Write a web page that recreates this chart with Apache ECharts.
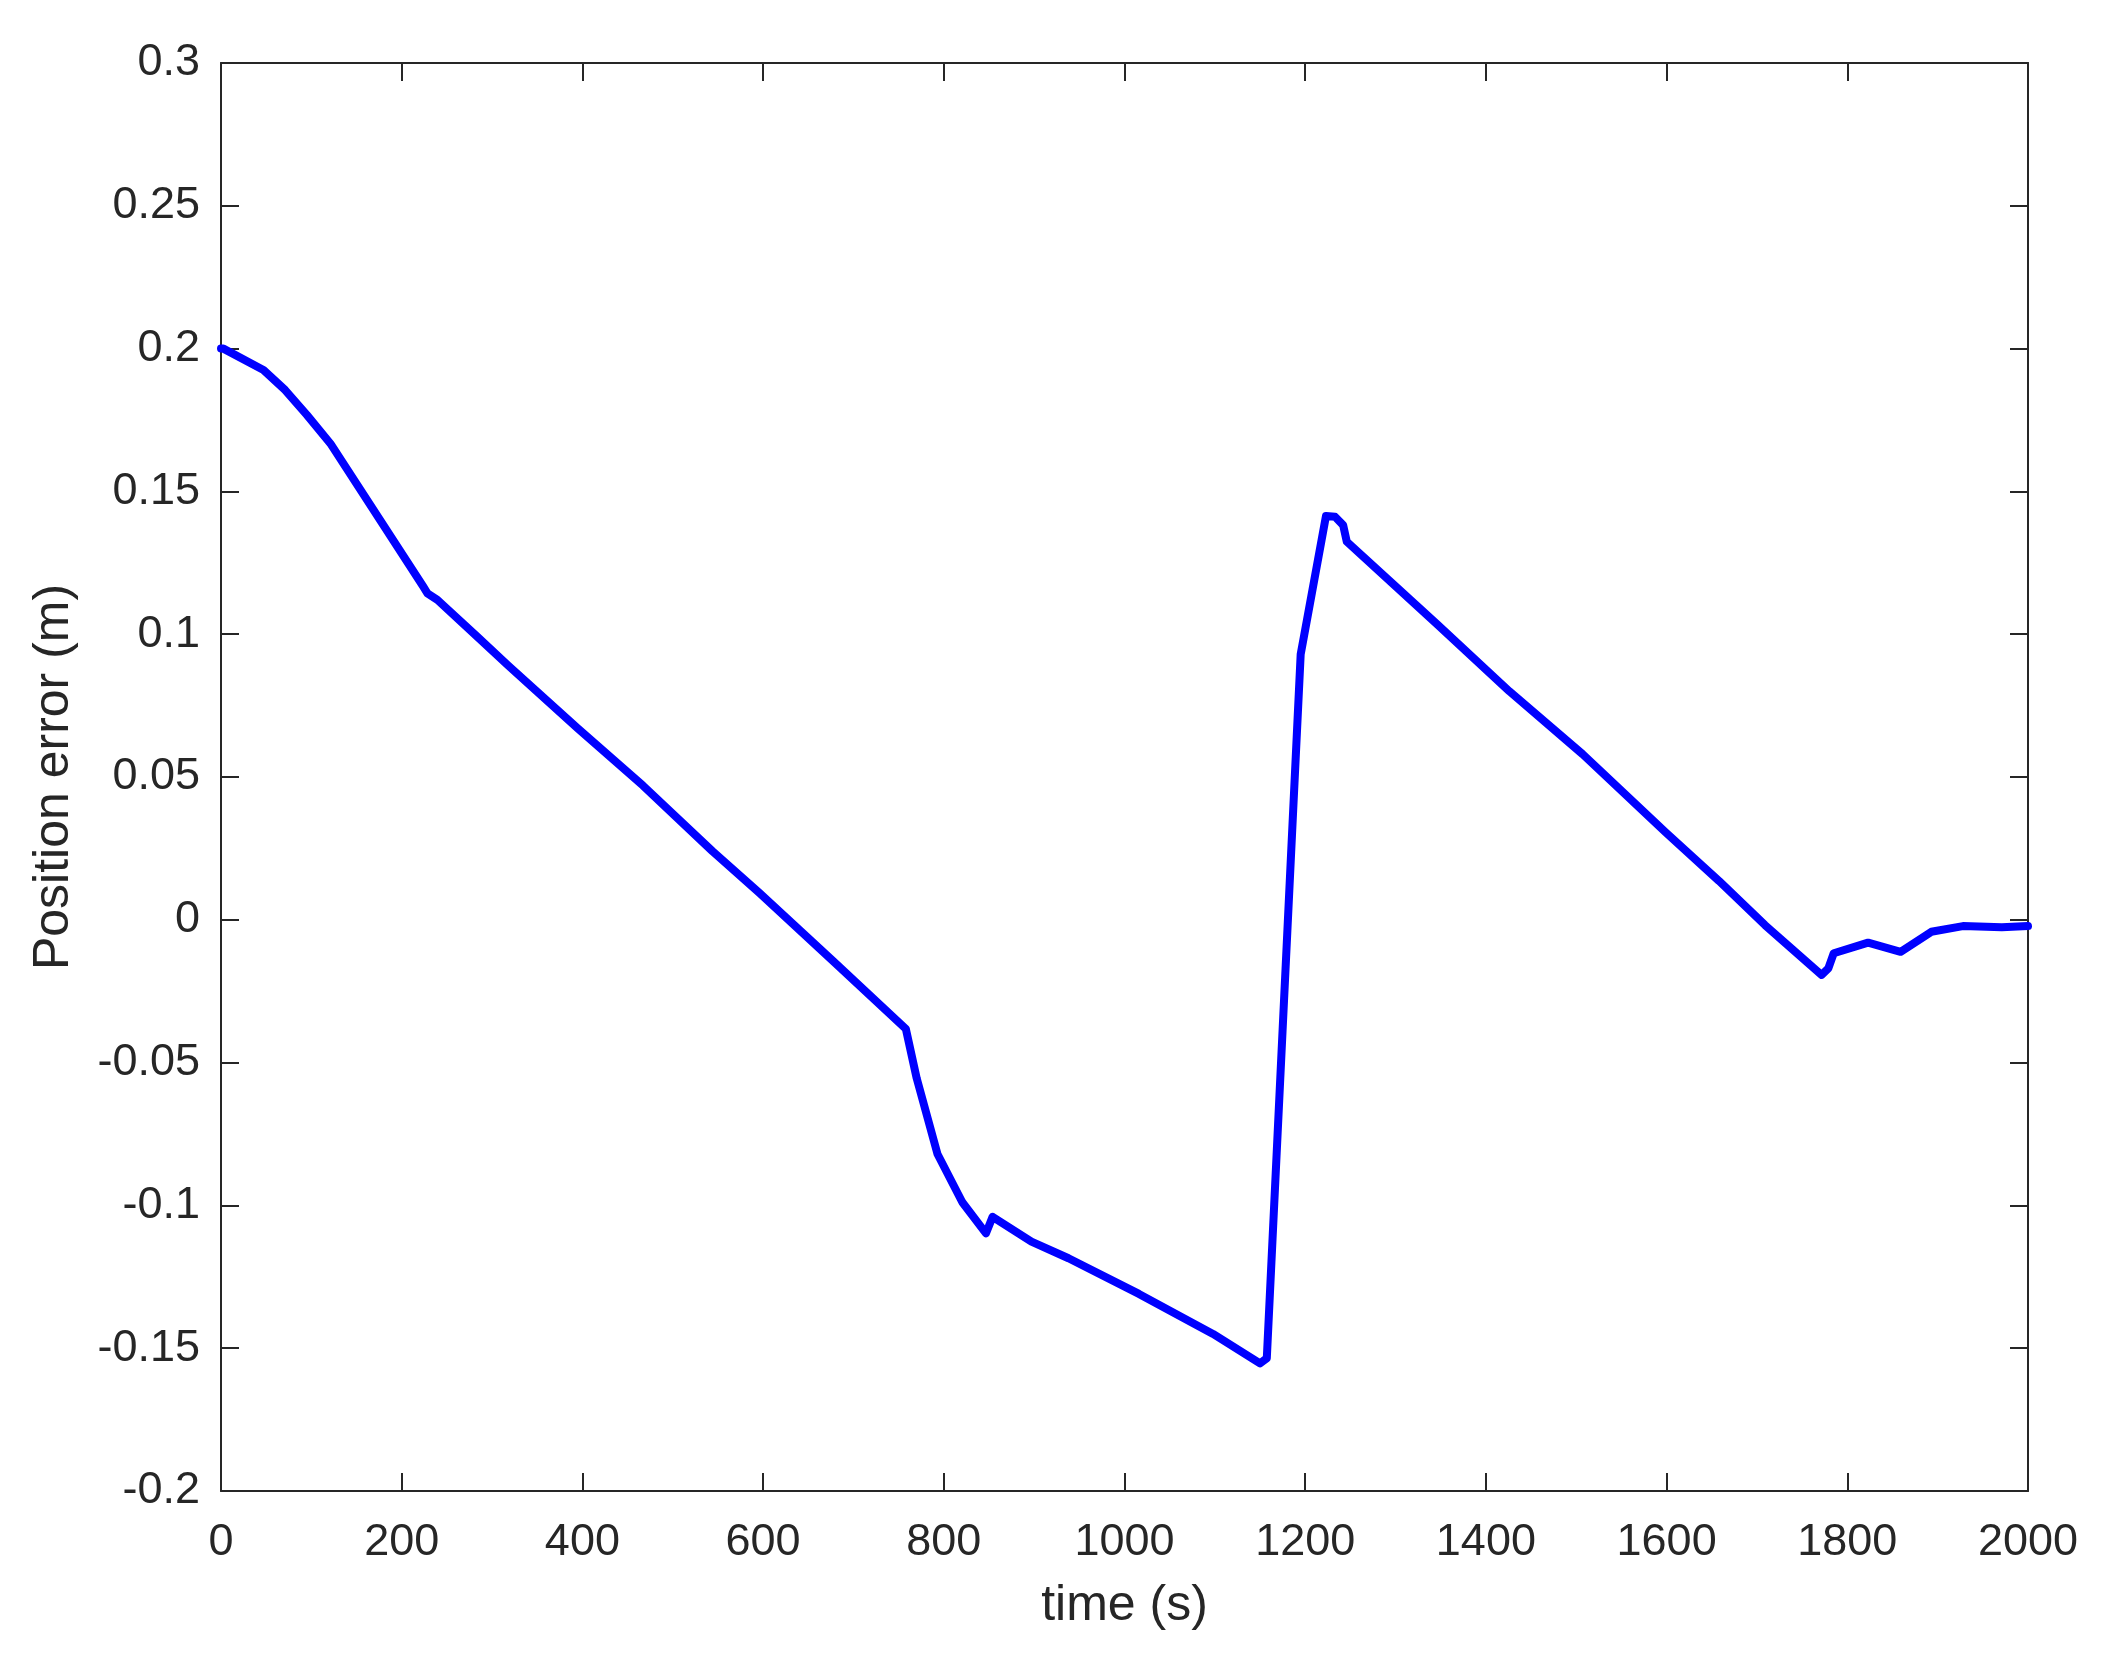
<!DOCTYPE html>
<html>
<head>
<meta charset="utf-8">
<script src="https://cdn.jsdelivr.net/npm/echarts@6/dist/echarts.min.js"></script>
<style>html,body{margin:0;padding:0;background:#fff}#c{width:2107px;height:1655px}</style>
</head>
<body>
<div id="c"></div>
<script>
const times = [0, 2.6, 47, 71, 95, 121, 224, 228.5, 239.5, 284, 318, 395, 467, 544, 596, 678, 758, 770, 793, 820.5, 846.7, 854, 897, 938, 1016, 1098, 1150, 1157.5, 1195, 1223, 1233, 1242, 1246, 1346, 1426, 1507, 1599, 1658, 1709, 1771.6, 1779, 1785, 1823, 1859, 1893, 1928, 1971, 2000];
const errors = [0.2, 0.2, 0.1925, 0.1855, 0.1768, 0.1668, 0.1166, 0.1143, 0.112, 0.099, 0.089, 0.067, 0.047, 0.024, 0.0094, -0.0146, -0.0382, -0.0555, -0.082, -0.0989, -0.1098, -0.104, -0.1127, -0.1185, -0.131, -0.145, -0.1553, -0.1535, 0.093, 0.1414, 0.1411, 0.1382, 0.1324, 0.1035, 0.080, 0.058, 0.0306, 0.0136, -0.0019, -0.0193, -0.017, -0.0117, -0.008, -0.0112, -0.0042, -0.0022, -0.0026, -0.0022];
const xTicks = [0, 200, 400, 600, 800, 1000, 1200, 1400, 1600, 1800, 2000];
const yTickLabels = ['-0.2', '-0.15', '-0.1', '-0.05', '0', '0.05', '0.1', '0.15', '0.2', '0.25', '0.3'];
const xName = 'time (s)';
const yName = 'Position error (m)';

const data = times.map((t, i) => [t, errors[i]]);
const txt = '#262626';
const font = 'Liberation Sans, Arial, Helvetica, sans-serif';
const axisCommon = {
  axisLine: {show: true, onZero: false, lineStyle: {color: txt, width: 2}},
  axisTick: {show: true, inside: true, length: 18, lineStyle: {color: txt, width: 2}},
  splitLine: {show: false}
};
const chart = echarts.init(document.getElementById('c'));
chart.setOption({
  animation: false,
  backgroundColor: '#fff',
  grid: {left: 221, top: 63, right: 79, bottom: 164, containLabel: false},
  xAxis: [
    Object.assign({
      type: 'value', min: xTicks[0], max: xTicks[xTicks.length - 1], interval: 200,
      name: xName, nameLocation: 'middle', nameGap: 90,
      nameTextStyle: {color: txt, fontSize: 50, fontFamily: font},
      axisLabel: {color: txt, fontSize: 45, fontFamily: font, margin: 29,
        formatter: v => String(xTicks[Math.round(v / 200)])}
    }, axisCommon),
    Object.assign({
      type: 'value', position: 'top', min: 0, max: 2000, interval: 200,
      axisLabel: {show: false}
    }, axisCommon)
  ],
  yAxis: [
    Object.assign({
      type: 'value', min: -0.2, max: 0.3, interval: 0.05,
      name: yName, nameLocation: 'middle', nameGap: 142,
      nameTextStyle: {color: txt, fontSize: 50, fontFamily: font},
      axisLabel: {color: txt, fontSize: 45, fontFamily: font, margin: 21,
        formatter: v => yTickLabels[Math.round((v + 0.2) / 0.05)]}
    }, axisCommon),
    Object.assign({
      type: 'value', position: 'right', min: -0.2, max: 0.3, interval: 0.05,
      axisLabel: {show: false}
    }, axisCommon)
  ],
  series: [{
    type: 'line', data: data, xAxisIndex: 0, yAxisIndex: 0,
    showSymbol: false, symbol: 'none',
    lineStyle: {color: '#0000ff', width: 8, join: 'round', cap: 'round'},
    silent: true
  }]
});
</script>
</body>
</html>
